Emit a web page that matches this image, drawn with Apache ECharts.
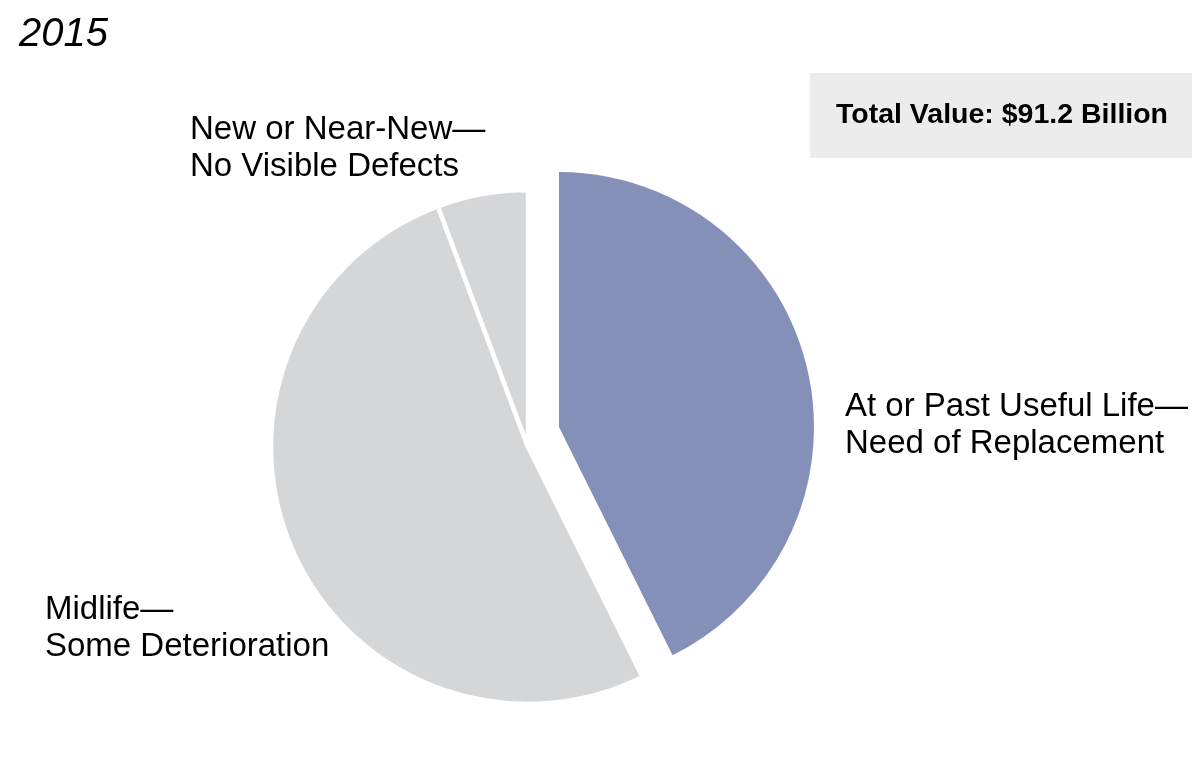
<!DOCTYPE html>
<html>
<head>
<meta charset="utf-8">
<script src="https://cdn.jsdelivr.net/npm/echarts@6/dist/echarts.min.js"></script>
<style>
html,body{margin:0;padding:0;background:#fff;}
#chart{width:1200px;height:774px;}
</style>
</head>
<body>
<div id="chart"></div>
<script>
// Data (values in billions of dollars, total $91.2 billion)
var chartTitle = '2015';
var totalLabel = 'Total Value: $91.2 Billion';
var categories = [
  'At or Past Useful Life\u2014\nNeed of Replacement',
  'Midlife\u2014\nSome Deterioration',
  'New or Near-New\u2014\nNo Visible Defects'
];
var values = [38.9, 47.1, 5.2];

var BLUE = '#8490b8';
var GREY = '#d5d6d8';
var FONT = '"Liberation Sans", Arial, Helvetica, sans-serif';

// label anchor positions (left x, vertical centre y) per slice
var labelPos = [
  {x: 845, y: 425},
  {x: 45, y: 628},
  {x: 190, y: 148}
];

var chart = echarts.init(document.getElementById('chart'), null, {renderer: 'canvas'});

var greyData = categories.map(function (name, i) {
  var item = {name: name, value: values[i]};
  if (i === 0) {
    item.itemStyle = {color: 'transparent', borderWidth: 0};
  }
  return item;
});
var blueData = categories.map(function (name, i) {
  var item = {name: name, value: values[i]};
  item.itemStyle = i === 0 ? {color: BLUE, borderWidth: 0} : {color: 'transparent', borderWidth: 0};
  return item;
});

var option = {
  animation: false,
  backgroundColor: '#ffffff',
  graphic: [
    {
      type: 'text',
      left: 19,
      top: 15,
      style: {
        text: chartTitle,
        font: 'italic 40px ' + FONT,
        fill: '#000'
      }
    },
    {
      type: 'rect',
      shape: {x: 810, y: 73, width: 382, height: 85},
      style: {fill: '#ebeceb'},
      z: 1
    },
    {
      type: 'text',
      x: 1002,
      y: 115,
      style: {
        text: totalLabel,
        font: 'bold 28.5px ' + FONT,
        fill: '#000',
        align: 'center',
        verticalAlign: 'middle'
      },
      z: 2
    }
  ],
  series: [
    {
      type: 'pie',
      center: [528, 447],
      radius: 257,
      startAngle: 90,
      clockwise: true,
      avoidLabelOverlap: false,
      silent: true,
      emphasis: {disabled: true},
      itemStyle: {color: GREY, borderColor: '#ffffff', borderWidth: 4.5},
      label: {
        show: true,
        position: 'outside',
        formatter: '{b}',
        fontFamily: FONT,
        fontSize: 33,
        lineHeight: 37,
        color: '#000'
      },
      labelLine: {show: false},
      labelLayout: function (params) {
        var p = labelPos[params.dataIndex];
        return {x: p.x, y: p.y, align: 'left', verticalAlign: 'middle', hideOverlap: false};
      },
      data: greyData
    },
    {
      type: 'pie',
      z: 3,
      center: [559, 427],
      radius: 255,
      startAngle: 90,
      clockwise: true,
      silent: true,
      emphasis: {disabled: true},
      label: {show: false},
      labelLine: {show: false},
      data: blueData
    }
  ]
};
chart.setOption(option);
</script>
</body>
</html>
